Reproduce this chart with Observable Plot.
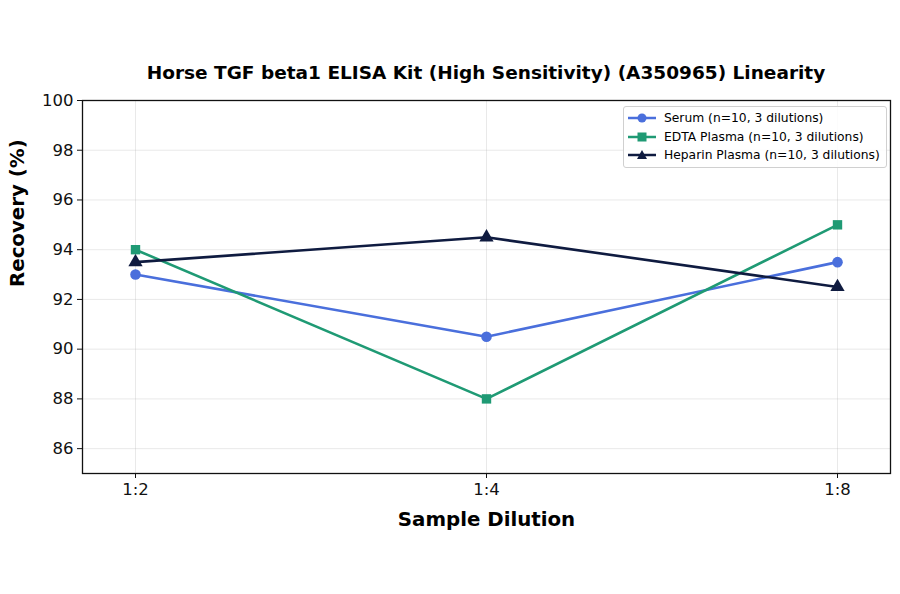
<!DOCTYPE html>
<html><head><meta charset="utf-8">
<script src="https://cdn.jsdelivr.net/npm/d3@7"></script>
<script src="https://cdn.jsdelivr.net/npm/@observablehq/plot@0.6"></script>
<style>
body{margin:0;background:#fff;font-family:"DejaVu Sans",sans-serif;}
#wrap{position:relative;width:900px;height:594px;}
#title{position:absolute;left:82px;width:808px;top:62px;text-align:center;font-weight:bold;font-size:18.5px;line-height:22px;color:#000;z-index:2;}
#chart{position:absolute;left:0;top:60px;z-index:1;}
#legend{position:absolute;left:623px;top:106px;width:262px;padding:2px 0 2px 0;border:1px solid #d0d0d0;border-radius:3px;background:rgba(255,255,255,0.85);font-size:12.3px;z-index:3;}
.row{display:flex;align-items:center;height:18.5px;}
.row svg{margin:0 8px 0 4px;}
</style></head>
<body><div id="wrap"><div id="title"></div><div id="chart"></div><div id="legend"></div></div>
<script>
const titleText = "Horse TGF beta1 ELISA Kit (High Sensitivity) (A350965) Linearity";
const dilutions = ["1:2", "1:4", "1:8"];
const seriesNames = ["Serum (n=10, 3 dilutions)", "EDTA Plasma (n=10, 3 dilutions)", "Heparin Plasma (n=10, 3 dilutions)"];
const serum = [93, 90.5, 93.5];
const edta = [94, 88, 95];
const heparin = [93.5, 94.5, 92.5];
const colors = ["#4a6fdc", "#1f9a74", "#0f1b40"];
const symbols = ["circle", "square", "triangle"];
const yTicks = [86, 88, 90, 92, 94, 96, 98, 100];

document.getElementById("title").textContent = titleText;
const values = [serum, edta, heparin];
const data = [];
seriesNames.forEach((s, i) => dilutions.forEach((d, j) => data.push({series: s, dilution: d, value: values[i][j]})));

const chart = Plot.plot({
  width: 900, height: 534,
  marginTop: 40, marginBottom: 121, marginLeft: 82, marginRight: 10,
  style: {fontFamily: "DejaVu Sans, sans-serif", background: "white"},
  x: {type: "point", domain: dilutions, padding: 0.148},
  y: {domain: [85, 100]},
  color: {domain: seriesNames, range: colors},
  symbol: {domain: seriesNames, range: symbols},
  marks: [
    Plot.gridX(dilutions, {stroke: "#b0b0b0", strokeOpacity: 0.35, strokeWidth: 0.8}),
    Plot.gridY(yTicks, {stroke: "#b0b0b0", strokeOpacity: 0.35, strokeWidth: 0.8}),
    Plot.axisX({ticks: dilutions, tickSize: 5, tickPadding: 5, fontSize: 16.5, label: null, color: "#111"}),
    Plot.axisY({ticks: yTicks, tickSize: 5, tickPadding: 4, fontSize: 16.5, label: null, color: "#111"}),
    Plot.line(data, {x: "dilution", y: "value", z: "series", stroke: "series", strokeWidth: 2.6}),
    Plot.dot(data, {x: "dilution", y: "value", fill: "series", symbol: "series", r: 5.3, stroke: "none"}),
    Plot.frame({stroke: "#111", strokeWidth: 1.3}),
    Plot.text(["Recovery (%)"], {frameAnchor: "left", dx: -65, rotate: -90, fontWeight: "bold", fontSize: 19.8}),
    Plot.text(["Sample Dilution"], {frameAnchor: "bottom", dy: 52, fontWeight: "bold", fontSize: 19.8})
  ]
});
document.getElementById("chart").appendChild(chart);

const legend = document.getElementById("legend");
seriesNames.forEach((s, i) => {
  const row = document.createElement("div");
  row.className = "row";
  let marker;
  if (symbols[i] === "circle") marker = `<circle cx="14" cy="6" r="4.5" fill="${colors[i]}"/>`;
  else if (symbols[i] === "square") marker = `<rect x="9.5" y="1.5" width="9" height="9" fill="${colors[i]}"/>`;
  else marker = `<path d="M14,1 L19,10 L9,10 Z" fill="${colors[i]}"/>`;
  row.innerHTML = `<svg width="28" height="12"><line x1="0" y1="6" x2="28" y2="6" stroke="${colors[i]}" stroke-width="2.5"/>${marker}</svg><span>${s}</span>`;
  legend.appendChild(row);
});
</script></body></html>
